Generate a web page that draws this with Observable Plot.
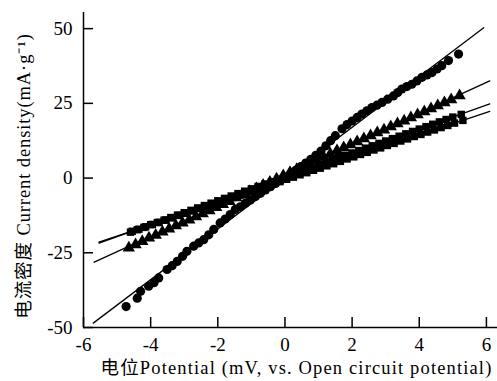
<!DOCTYPE html>
<html>
<head>
<meta charset="utf-8">
<script src="https://cdn.jsdelivr.net/npm/d3@7"></script>
<script src="https://cdn.jsdelivr.net/npm/@observablehq/plot@0.6"></script>
<style>
  html, body { margin: 0; padding: 0; background: #fff; }
</style>
</head>
<body>
<div id="chart"></div>
<script>
// Polarization data: potential (mV vs. OCP) and current density (mA·g⁻¹)
const circleX = [-4.73,-4.40,-4.30,-4.06,-3.90,-3.76,-3.51,-3.36,-3.21,-3.05,-2.92,-2.72,-2.57,-2.42,-2.27,-2.12,-1.93,-1.78,-1.63,-1.48,-1.33,-1.18,-1.03,-0.88,-0.73,-0.58,-0.43,-0.28,-0.13,0.02,0.17,0.32,0.47,0.62,0.77,0.92,1.07,1.22,1.36,1.50,1.70,1.85,2.00,2.15,2.29,2.44,2.59,2.74,2.89,3.06,3.23,3.36,3.48,3.63,3.78,3.93,4.08,4.23,4.38,4.53,4.67,4.87,5.17];
const circleY = [-43.0,-40.2,-37.9,-36.2,-35.0,-33.4,-30.6,-29.3,-27.9,-26.2,-24.5,-22.8,-21.7,-20.6,-19.0,-17.2,-15.0,-13.7,-12.2,-10.5,-9.6,-8.4,-7.3,-6.2,-5.1,-4.0,-2.9,-1.8,-0.8,0.3,1.4,2.6,3.8,5.0,6.3,7.6,9.0,10.8,12.5,14.2,16.5,17.9,19.1,20.3,21.4,22.5,23.6,24.4,25.3,26.4,27.5,28.6,29.8,30.6,31.4,32.5,33.7,34.5,35.3,36.5,37.6,39.3,41.5];

const triX = [-4.65,-4.45,-4.25,-4.05,-3.85,-3.65,-3.45,-3.25,-3.05,-2.85,-2.65,-2.45,-2.25,-2.05,-1.85,-1.65,-1.45,-1.25,-1.05,-0.85,-0.65,-0.45,-0.25,-0.05,0.15,0.35,0.55,0.75,0.95,1.15,1.35,1.55,1.75,1.95,2.15,2.35,2.55,2.75,2.95,3.15,3.35,3.55,3.75,3.95,4.15,4.35,4.55,4.75,4.95,5.20];
const triY = [-23.4,-22.3,-21.2,-20.0,-19.1,-18.0,-17.0,-15.9,-15.0,-14.0,-12.9,-11.9,-10.9,-9.8,-8.8,-7.8,-6.6,-5.6,-4.5,-3.5,-2.4,-1.4,-0.3,0.8,1.9,2.9,4.0,5.0,6.1,7.1,8.1,9.2,10.2,11.2,12.2,13.2,14.2,15.2,16.1,17.2,18.2,19.1,20.2,21.2,22.2,23.2,24.2,25.2,26.2,27.6];

const sqAX = [-4.60,-4.40,-4.20,-4.00,-3.80,-3.60,-3.40,-3.20,-3.00,-2.80,-2.60,-2.40,-2.20,-2.00,-1.80,-1.60,-1.40,-1.20,-1.00,-0.80,-0.60,-0.40,-0.20,0.00,0.20,0.40,0.60,0.80,1.00,1.20,1.40,1.60,1.80,2.00,2.20,2.40,2.60,2.80,3.00,3.20,3.40,3.60,3.80,4.00,4.20,4.40,4.60,4.80,5.00,5.25];
const sqAY = [-18.1,-17.3,-16.5,-15.6,-14.9,-14.1,-13.2,-12.4,-11.6,-10.8,-10.0,-9.2,-8.4,-7.6,-6.8,-6.0,-5.2,-4.4,-3.6,-2.8,-2.0,-1.2,-0.4,0.4,1.2,2.0,2.8,3.6,4.4,5.2,6.0,6.8,7.6,8.4,9.2,10.0,10.8,11.6,12.4,13.2,14.0,14.8,15.6,16.4,17.2,18.0,18.8,19.6,20.4,21.3];

const sqBX = [-4.55,-4.35,-4.15,-3.95,-3.75,-3.55,-3.35,-3.15,-2.95,-2.75,-2.55,-2.35,-2.15,-1.95,-1.75,-1.55,-1.35,-1.15,-0.95,-0.75,-0.55,-0.35,-0.15,0.05,0.25,0.45,0.65,0.85,1.05,1.25,1.45,1.65,1.85,2.05,2.25,2.45,2.65,2.85,3.05,3.25,3.45,3.65,3.85,4.05,4.25,4.45,4.65,4.85,5.05,5.30];
const sqBY = [-17.8,-17.1,-16.3,-15.5,-14.8,-14.0,-13.3,-12.5,-11.8,-11.0,-10.2,-9.5,-8.7,-8.0,-7.2,-6.5,-5.7,-4.9,-4.2,-3.4,-2.7,-1.9,-1.2,-0.4,0.3,1.1,1.8,2.6,3.3,4.1,4.8,5.6,6.4,7.1,7.9,8.6,9.4,10.1,10.9,11.6,12.4,13.1,13.9,14.6,15.4,16.1,16.9,17.6,18.4,19.3];

// Linear fits: slope, intercept and plotted range for each series
const fitSlope = [8.5, 5.15, 4.0, 3.76];
const fitIntercept = [0.0, 1.1, 0.4, -0.6];
const fitStart = [-5.71, -5.68, -5.54, -5.54];
const fitEnd = [5.92, 6.1, 6.1, 6.1];

const xTicks = [-6, -4, -2, 0, 2, 4, 6];
const yTicks = [-50, -25, 0, 25, 50];
const xLabel = "电位Potential (mV, vs. Open circuit potential)";
const yLabel = "电流密度 Current density(mA·g⁻¹)";

const zip = (xs, ys) => xs.map((x, i) => ({x, y: ys[i]}));
const circles = zip(circleX, circleY);
const triangles = zip(triX, triY);
const squaresA = zip(sqAX, sqAY);
const squaresB = zip(sqBX, sqBY);
const fits = fitSlope.map((m, i) => [
  {x: fitStart[i], y: m * fitStart[i] + fitIntercept[i], k: i},
  {x: fitEnd[i], y: m * fitEnd[i] + fitIntercept[i], k: i}
]).flat();

// plain hyphen for negative tick labels
const fmt = d => String(d);

const chart = Plot.plot({
  width: 497,
  height: 381,
  marginLeft: 83,
  marginRight: 0,
  marginTop: 12,
  marginBottom: 54,
  style: {fontFamily: "'Liberation Serif', 'Noto Sans CJK SC', serif", fontSize: "19px", color: "#000", background: "#fff"},
  x: {domain: [-6, 6.33]},
  y: {domain: [-50, 55.4]},
  marks: [
    Plot.axisX({ticks: xTicks, tickFormat: fmt, tickSize: -10, tickPadding: 20, strokeWidth: 1.5, label: null}),
    Plot.axisY({ticks: yTicks, tickFormat: fmt, tickSize: -10, tickPadding: 21, strokeWidth: 1.5, label: null}),
    Plot.text([xLabel], {frameAnchor: "bottom", textAnchor: "middle", lineAnchor: "middle", dx: 6, dy: 41, fontSize: 18.5}),
    Plot.text([yLabel], {frameAnchor: "left", textAnchor: "middle", lineAnchor: "middle", rotate: -90, dx: -59, dy: 6, fontSize: 18.5}),
    Plot.ruleX([-6], {strokeWidth: 1.5}),
    Plot.ruleY([-50], {strokeWidth: 1.5}),
    Plot.line(fits, {x: "x", y: "y", z: "k", stroke: "#000", strokeWidth: 1.3}),
    Plot.dot(squaresB, {x: "x", y: "y", symbol: "square", r: 4.2, fill: "#000"}),
    Plot.dot(squaresA, {x: "x", y: "y", symbol: "square", r: 4.2, fill: "#000"}),
    Plot.dot(triangles, {x: "x", y: "y", symbol: "triangle", r: 4.6, fill: "#000"}),
    Plot.dot(circles, {x: "x", y: "y", symbol: "circle", r: 4.6, fill: "#000"})
  ]
});

// wider tracking on the axis titles
d3.select(chart).selectAll("text")
  .filter(function () { return this.textContent === xLabel; })
  .style("letter-spacing", "1.15px");
d3.select(chart).selectAll("text")
  .filter(function () { return this.textContent === yLabel; })
  .style("letter-spacing", "0.9px");

document.getElementById("chart").appendChild(chart);
</script>
</body>
</html>
